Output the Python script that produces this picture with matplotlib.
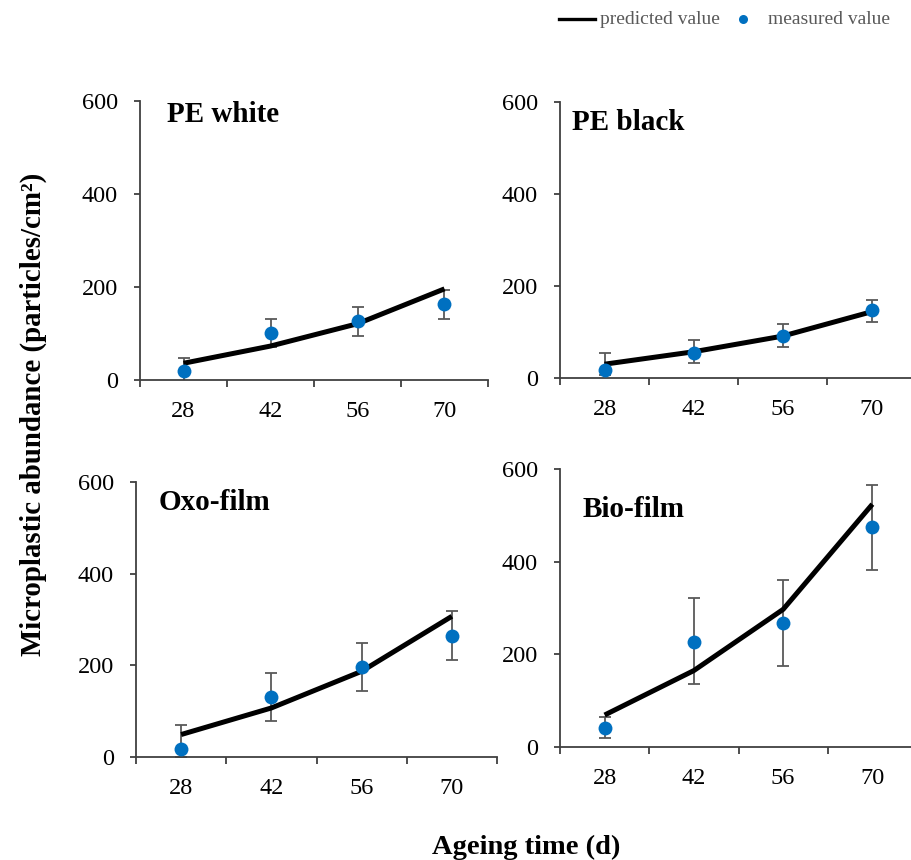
import matplotlib
matplotlib.use("Agg")
import matplotlib.pyplot as plt
from matplotlib.lines import Line2D
import numpy as np

plt.rcParams['font.family'] = ['Liberation Serif', 'DejaVu Serif']

days = ["28", "42", "56", "70"]
panels = ["PE white", "PE black", "Oxo-film", "Bio-film"]

pe_white_pred = [36, 73, 121, 196]
pe_white_meas = [19, 101, 126, 163]
pe_white_err_lo = [29, 30, 31, 31]
pe_white_err_hi = [29, 30, 31, 30]

pe_black_pred = [30, 57, 91, 144]
pe_black_meas = [17, 55, 91, 147]
pe_black_err_lo = [11, 22, 23, 25]
pe_black_err_hi = [38, 28, 26, 23]

oxo_pred = [49, 107, 187, 307]
oxo_meas = [18, 130, 196, 265]
oxo_err_lo = [18, 52, 53, 53]
oxo_err_hi = [51, 53, 53, 53]

bio_pred = [69, 165, 297, 524]
bio_meas = [40, 227, 268, 474]
bio_err_lo = [21, 91, 93, 91]
bio_err_hi = [25, 94, 92, 91]

preds = [pe_white_pred, pe_black_pred, oxo_pred, bio_pred]
meas = [pe_white_meas, pe_black_meas, oxo_meas, bio_meas]
errs_lo = [pe_white_err_lo, pe_black_err_lo, oxo_err_lo, bio_err_lo]
errs_hi = [pe_white_err_hi, pe_black_err_hi, oxo_err_hi, bio_err_hi]

W, H = 911, 860
fig = plt.figure(figsize=(W / 100, H / 100), dpi=100)

# pixel boxes: left, right, top, bottom
boxes = [(140, 488, 101, 380), (560, 916, 102, 378),
         (136, 497, 482, 757), (560, 917, 469, 747)]
title_pos = [(0.078, 0.95), (0.034, 0.924), (0.064, 0.927), (0.062, 0.856)]

blue = '#0070C0'
grey = '#595959'
axcol = '#404040'

for i, (l, r, t, b) in enumerate(boxes):
    ax = fig.add_axes([l / W, 1 - b / H, (r - l) / W, (b - t) / H])
    x = np.arange(len(days))
    ax.errorbar(x, meas[i], yerr=[errs_lo[i], errs_hi[i]], fmt='none',
                ecolor=grey, elinewidth=1.3, capsize=4, capthick=1.3, zorder=2)
    ax.plot(x, preds[i], color='black', lw=3.6, zorder=3, solid_capstyle='butt')
    ax.plot(x, meas[i], 'o', color=blue, ms=10, zorder=4, markeredgewidth=0)
    ax.set_xlim(-0.5, len(days) - 0.5)
    ax.set_ylim(0, 600)
    ax.set_yticks([0, 200, 400, 600])
    ax.set_xticks(x)
    ax.set_xticklabels(days)
    ax.set_xticks(np.arange(-0.5, len(days)), minor=True)
    ax.tick_params(axis='x', which='major', length=0, pad=15, labelsize=17.5)
    ax.tick_params(axis='x', which='minor', length=5, width=1.3, color=axcol, direction='out')
    ax.tick_params(axis='y', length=4, width=1.3, color=axcol, direction='out', pad=12, labelsize=17.5)
    for s in ['top', 'right']:
        ax.spines[s].set_visible(False)
    for s in ['left', 'bottom']:
        ax.spines[s].set_color(axcol)
        ax.spines[s].set_linewidth(1.3)
    ax.text(title_pos[i][0], title_pos[i][1], panels[i], transform=ax.transAxes,
            fontsize=21, fontweight='bold', ha='left', va='center')

fig.text(33 / W, 1 - 414 / H, 'Microplastic abundance (particles/cm\u00b2)',
         rotation=90, ha='center', va='center', fontsize=20.8, fontweight='bold')
fig.text(526 / W, 1 - 847 / H, 'Ageing time (d)', ha='center', va='center',
         fontsize=20.5, fontweight='bold')

# legend (drawn in figure pixel coordinates)
ly = 1 - 19 / H
fig.add_artist(Line2D([559 / W, 595 / W], [ly, ly], color='black', lw=2.4,
                      transform=fig.transFigure))
fig.text(600 / W, ly, 'predicted value', color=grey, fontsize=14, ha='left', va='center')
fig.add_artist(Line2D([743 / W], [ly], marker='o', color=blue, ms=6.5, ls='none',
                      markeredgewidth=0, transform=fig.transFigure))
fig.text(768 / W, ly, 'measured value', color=grey, fontsize=14, ha='left', va='center')

fig.savefig('out.png', dpi=100)
